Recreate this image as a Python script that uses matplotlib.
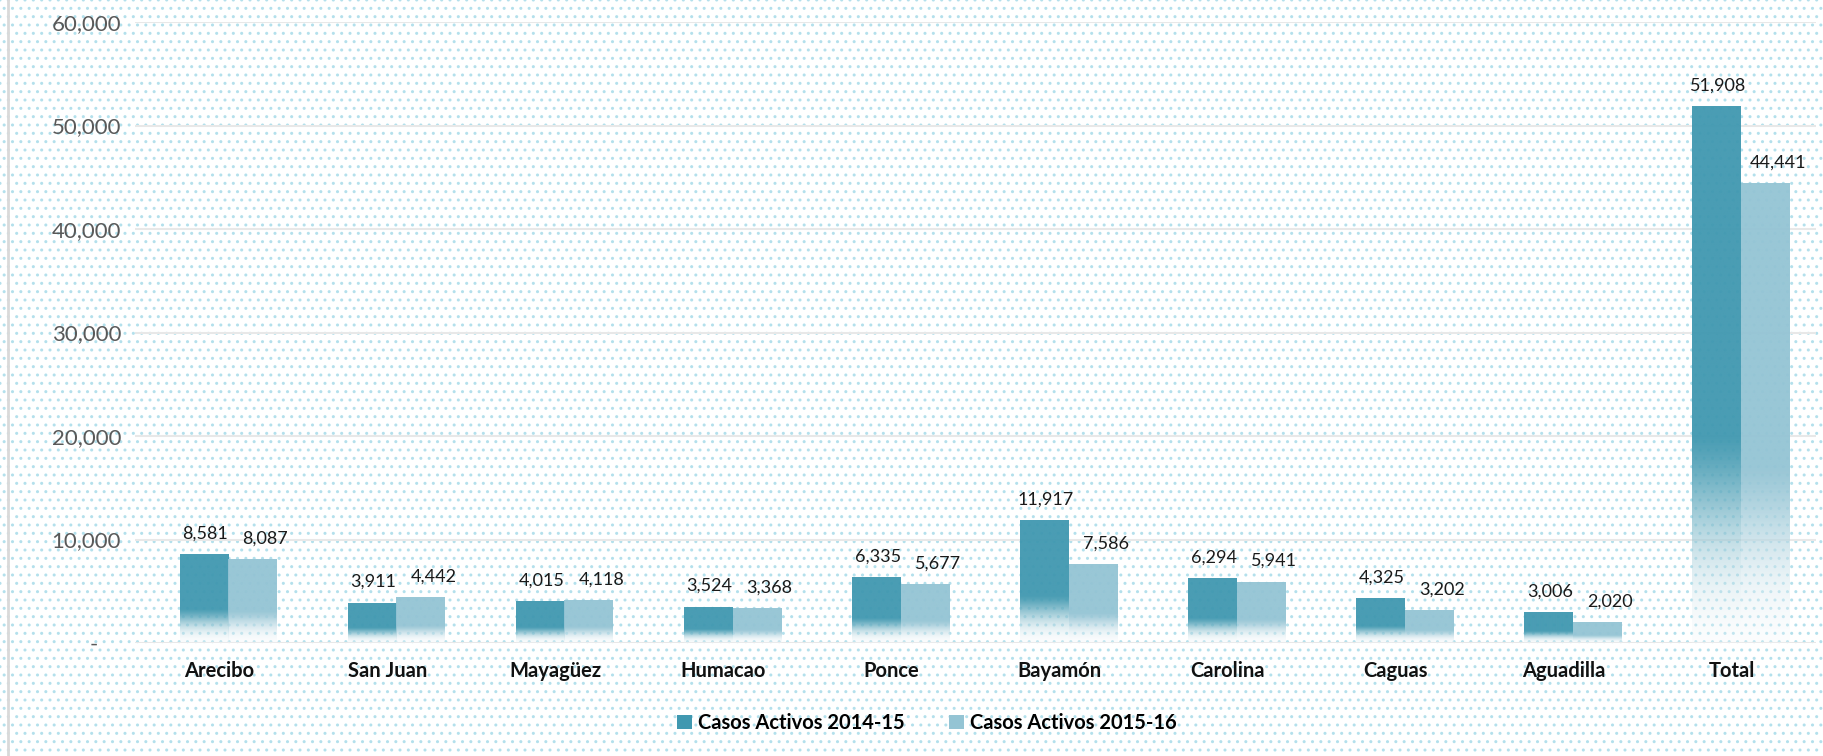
import matplotlib
matplotlib.use('Agg')
import matplotlib.pyplot as plt
import matplotlib.patches as mpatches
import matplotlib.lines as mlines
import numpy as np
from matplotlib.ticker import FuncFormatter

# data
regiones = ['Arecibo', 'San Juan', 'Mayagüez', 'Humacao', 'Ponce',
            'Bayamón', 'Carolina', 'Caguas', 'Aguadilla', 'Total']
casos_2014_15 = [8581, 3911, 4015, 3524, 6335, 11917, 6294, 4325, 3006, 51908]
casos_2015_16 = [8087, 4442, 4118, 3368, 5677, 7586, 5941, 3202, 2020, 44441]
series_labels = ['Casos Activos 2014-15', 'Casos Activos 2015-16']
y_ticks = [0, 10000, 20000, 30000, 40000, 50000, 60000]

colors = ['#4098B0', '#94C4D4']

plt.rcParams['font.family'] = ['Lato', 'DejaVu Sans']
plt.rcParams['hatch.linewidth'] = 1.0

fig = plt.figure(figsize=(18.24, 7.56), dpi=100)
fig.patch.set_facecolor('white')

# dotted background texture
bg = mpatches.Rectangle((0, 0), 1, 1, transform=fig.transFigure,
                        facecolor='white', edgecolor='#B3E0EC', linewidth=0,
                        hatch='..', zorder=-10)
fig.add_artist(bg)
# left border line of the chart area
fig.add_artist(mlines.Line2D([8 / 1824, 8 / 1824], [0, 1], color='#D9D9D9',
                             linewidth=2, transform=fig.transFigure))

ax = fig.add_axes([135 / 1824, 1 - 643 / 756, (1816 - 135) / 1824, (643 - 22) / 756])
ax.set_facecolor('none')

x = np.arange(len(regiones))
w = 0.29
shift = 0.055  # bars sit a little right of their category labels
label_dx = [1, 9]  # second series labels are nudged right


def gradient_image(hex_color):
    # solid colour on top, fading to near white over the lowest ~35 %
    rgb = np.array(matplotlib.colors.to_rgb(hex_color))
    t = np.linspace(0, 1, 256)  # 0 top -> 1 bottom
    s = np.clip((t - 0.62) / 0.38, 0, 1)
    mix = 0.5 * (s * s * (3 - 2 * s)) + 0.5 * s
    img = np.zeros((256, 1, 4))
    white = np.array([0.95, 0.97, 0.98])
    img[:, 0, :3] = rgb[None, :] * (1 - mix[:, None]) + white[None, :] * mix[:, None]
    img[:, 0, 3] = 0.95 - 0.7 * mix
    return img


for i, (vals, col) in enumerate(zip([casos_2014_15, casos_2015_16], colors)):
    bars = ax.bar(x + shift + (i - 0.5) * w, vals, w, facecolor='none',
                  edgecolor='none', label=series_labels[i], zorder=3)
    img = gradient_image(col)
    for b, v in zip(bars, vals):
        x0 = b.get_x()
        im = ax.imshow(img, extent=[x0, x0 + b.get_width(), 0, b.get_height()],
                       aspect='auto', zorder=2, interpolation='bilinear')
        im.set_clip_path(b)
        ax.annotate(f'{v:,}', (b.get_x() + b.get_width() / 2, v),
                    xytext=(label_dx[i], 9), textcoords='offset points',
                    ha='center', va='bottom', fontsize=13, color='#1A1A1A')

ax.set_xlim(-0.5, len(regiones) - 0.5)
ax.set_ylim(0, 60000)
ax.set_yticks(y_ticks)
ax.yaxis.set_major_formatter(FuncFormatter(lambda v, p: '-    ' if v == 0 else f'{int(v):,}'))
ax.set_xticks(x)
ax.set_xticklabels(regiones, fontsize=14.5, fontweight='bold', color='#111111')
ax.tick_params(axis='x', length=0, pad=13)
ax.tick_params(axis='y', length=0, pad=10, labelsize=16, labelcolor='#595959')
ax.grid(axis='y', color='#E8E8E8', linewidth=1.5, zorder=1)
ax.set_axisbelow(True)
for s in ax.spines.values():
    s.set_visible(False)

handles = [mpatches.Patch(facecolor=c, edgecolor='none') for c in colors]
fig.legend(handles, series_labels, loc='center', bbox_to_anchor=(927 / 1824, 1 - 723 / 756),
           ncol=2, frameon=False, handlelength=0.75, handleheight=0.75,
           handletextpad=0.3, columnspacing=2.2,
           prop={'weight': 'bold', 'size': 14.5})

fig.savefig('out.png', dpi=100)
